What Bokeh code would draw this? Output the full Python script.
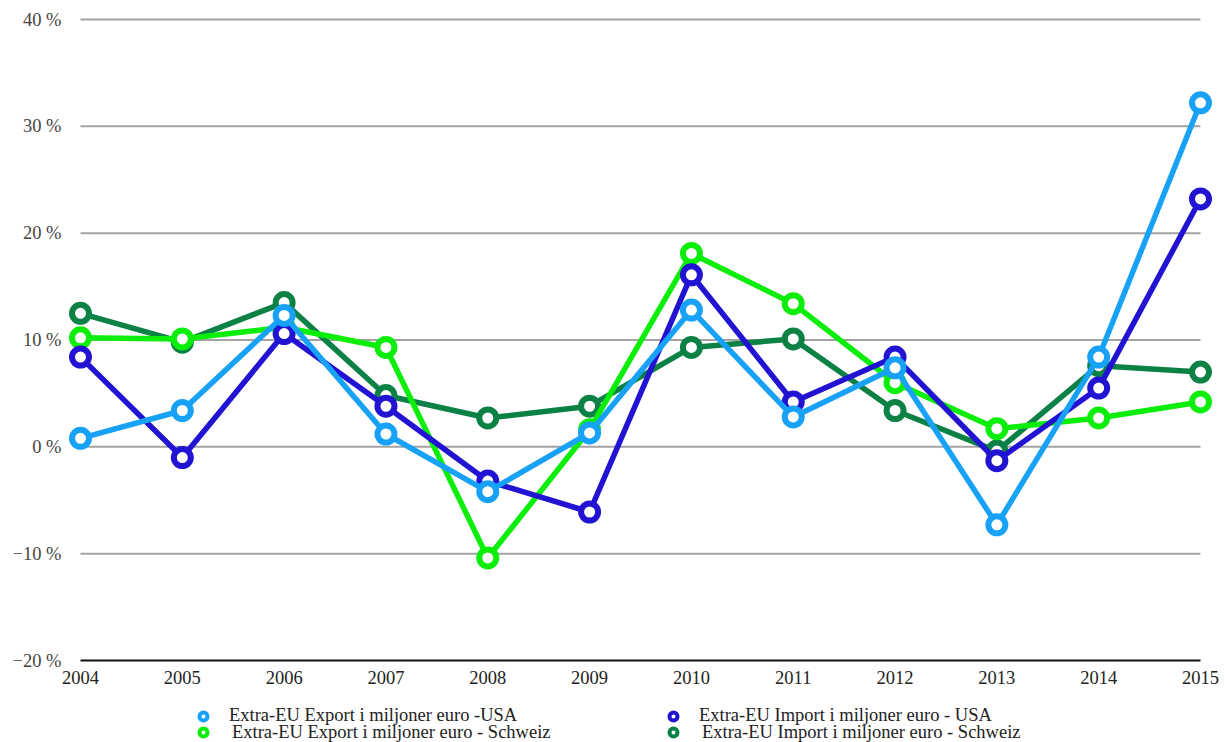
from bokeh.plotting import figure
from bokeh.models import Range1d, Legend, LegendItem
from bokeh.core.properties import value
from bokeh.embed import file_html
from bokeh.resources import INLINE

years = [2004, 2005, 2006, 2007, 2008, 2009, 2010, 2011, 2012, 2013, 2014, 2015]
year_labels = ["2004", "2005", "2006", "2007", "2008", "2009", "2010", "2011", "2012", "2013", "2014", "2015"]
export_usa = [0.8, 3.4, 12.3, 1.2, -4.2, 1.3, 12.8, 2.8, 7.4, -7.3, 8.4, 32.2]
import_usa = [8.4, -1.0, 10.6, 3.8, -3.2, -6.1, 16.1, 4.2, 8.4, -1.3, 5.5, 23.2]
export_ch = [10.2, 10.1, 11.2, 9.3, -10.4, 1.6, 18.1, 13.4, 6.0, 1.7, 2.7, 4.2]
import_ch = [12.5, 9.8, 13.5, 4.8, 2.7, 3.8, 9.3, 10.1, 3.4, -0.4, 7.6, 7.0]

series_names = [
    "Extra-EU Export i miljoner euro -USA",
    "Extra-EU Import i miljoner euro - USA",
    "Extra-EU Export i miljoner euro - Schweiz",
    "Extra-EU Import i miljoner euro - Schweiz",
]
series_colors = ["#17a2f7", "#2212d2", "#0aee0a", "#0b8146"]

y_ticks = [-20, -10, 0, 10, 20, 30, 40]
y_tick_labels = ["\u221220 %", "\u221210 %", "0 %", "10 %", "20 %", "30 %", "40 %"]
grid_values = [-10, 0, 10, 20, 30, 40]

FONT = "Liberation Serif"
FS = "18.5px"
W, H = 1225, 742
PX_PER_YEAR = 101.82
PX_PER_UNIT = (660 - 19) / 60.0

p = figure(width=W, height=H, output_backend="svg", toolbar_location=None,
           x_range=Range1d(years[0] - 80 / PX_PER_YEAR, years[-1] + (W - 1200) / PX_PER_YEAR),
           y_range=Range1d(y_ticks[0] - (H - 660) / PX_PER_UNIT, y_ticks[-1] + 19 / PX_PER_UNIT),
           min_border_left=0, min_border_right=0, min_border_top=0, min_border_bottom=0)
p.outline_line_color = None
p.xgrid.visible = False
p.ygrid.visible = False
p.xaxis.visible = False
p.yaxis.visible = False
p.background_fill_color = "white"
p.border_fill_color = "white"

# gridlines spanning only the year range
p.segment(x0=[years[0]] * len(grid_values), x1=[years[-1]] * len(grid_values),
          y0=grid_values, y1=grid_values, line_color="#a3a3a3", line_width=2)
p.segment(x0=[years[0]], x1=[years[-1]], y0=[y_ticks[0]], y1=[y_ticks[0]],
          line_color="#111111", line_width=2)

# year labels under the base line
p.text(x=years, y=[y_ticks[0]] * len(years), text=year_labels,
       text_font=value(FONT), text_font_size=FS, text_color="#222222",
       text_align="center", text_baseline="top", y_offset=10)

# y tick labels left of the grid
p.text(x=[years[0]] * len(y_ticks), y=y_ticks, text=y_tick_labels,
       text_font=value(FONT), text_font_size=FS, text_color="#444444",
       text_align="right", text_baseline="middle", x_offset=-19)

data = [export_usa, import_usa, export_ch, import_ch]
draw_order = [3, 2, 1, 0]
for i in draw_order:
    p.line(years, data[i], line_color=series_colors[i], line_width=5.5, line_join="round")
    p.scatter(years, data[i], marker="circle", size=17, fill_color="white",
              line_color=series_colors[i], line_width=6)

# legend entries (marker only; a single NaN point so nothing shows on the chart)
nan = float("nan")
legend_r = []
for i in range(4):
    r = p.scatter(x=[nan], y=[nan], marker="circle", fill_color="white",
                  line_color=series_colors[i], line_width=4)
    legend_r.append(r)

def make_legend(k, x, y, standoff):
    return Legend(items=[LegendItem(label=series_names[k], renderers=[legend_r[k]])],
                  location=(x, y), orientation="vertical",
                  glyph_width=20, glyph_height=20, label_height=20, spacing=0,
                  padding=0, margin=0, label_standoff=standoff,
                  border_line_color=None, background_fill_alpha=0,
                  label_text_font=FONT, label_text_font_size=FS,
                  label_text_color="#222222")

p.add_layout(make_legend(0, 193, 16, 16), "center")
p.add_layout(make_legend(2, 193, -0.5, 19), "center")
p.add_layout(make_legend(1, 663, 16, 16), "center")
p.add_layout(make_legend(3, 663, -0.5, 19), "center")

open("out.html", "w").write(file_html(p, INLINE))
